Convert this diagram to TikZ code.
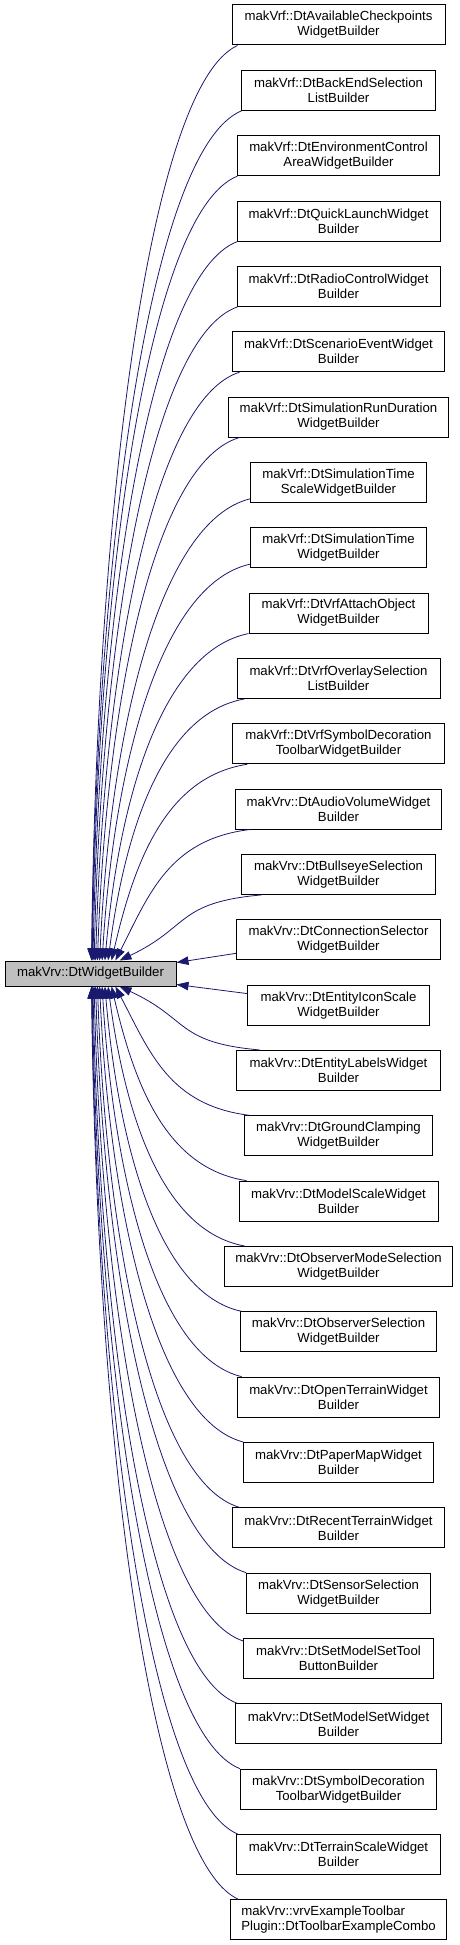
\documentclass[tikz,border=0pt]{standalone}
\usepackage{fontspec}
\setmainfont{Liberation Sans}
\usetikzlibrary{arrows.meta}
\definecolor{midnightblue}{HTML}{191970}
\definecolor{grey75}{HTML}{BFBFBF}
\begin{document}
\begin{tikzpicture}[x=1pt,y=-1pt,
  box/.style={draw=black, fill=white, line width=1pt, minimum height=40pt, inner sep=0pt, align=center, font=\fontsize{13.2pt}{15pt}\selectfont},
  lnode/.style={draw=black, fill=grey75, line width=1pt, minimum height=25pt, minimum width=171pt, inner sep=0pt, font=\fontsize{13.2pt}{15pt}\selectfont},
  edge/.style={draw=midnightblue, line width=0.8pt, {Triangle[length=12pt,width=8.5pt,fill=midnightblue]}-}]
\useasboundingbox (0,0) rectangle (459,1945);
\node[lnode] (L) at (90.5,973.5) {makVrv::DtWidgetBuilder};
\node[box, minimum width=213pt] (b0) at (338.5,25) {makVrf::DtAvailableCheckpoints\\WidgetBuilder};
\node[box, minimum width=193.6pt] (b1) at (338.5,90.34) {makVrf::DtBackEndSelection\\ListBuilder};
\node[box, minimum width=202pt] (b2) at (338.5,155.68) {makVrf::DtEnvironmentControl\\AreaWidgetBuilder};
\node[box, minimum width=203pt] (b3) at (338.5,221.02) {makVrf::DtQuickLaunchWidget\\Builder};
\node[box, minimum width=203pt] (b4) at (338.5,286.36) {makVrf::DtRadioControlWidget\\Builder};
\node[box, minimum width=212.4pt] (b5) at (338.5,351.7) {makVrf::DtScenarioEventWidget\\Builder};
\node[box, minimum width=220.4pt] (b6) at (338.5,417.04) {makVrf::DtSimulationRunDuration\\WidgetBuilder};
\node[box, minimum width=176.4pt] (b7) at (338.5,482.38) {makVrf::DtSimulationTime\\ScaleWidgetBuilder};
\node[box, minimum width=176.4pt] (b8) at (338.5,547.72) {makVrf::DtSimulationTime\\WidgetBuilder};
\node[box, minimum width=179pt] (b9) at (338.5,613.06) {makVrf::DtVrfAttachObject\\WidgetBuilder};
\node[box, minimum width=203pt] (b10) at (338.5,678.4) {makVrf::DtVrfOverlaySelection\\ListBuilder};
\node[box, minimum width=211.3pt] (b11) at (338.5,743.74) {makVrf::DtVrfSymbolDecoration\\ToolbarWidgetBuilder};
\node[box, minimum width=206.7pt] (b12) at (338.5,809.08) {makVrv::DtAudioVolumeWidget\\Builder};
\node[box, minimum width=193.6pt] (b13) at (338.5,874.42) {makVrv::DtBullseyeSelection\\WidgetBuilder};
\node[box, minimum width=203.3pt] (b14) at (338.5,939.76) {makVrv::DtConnectionSelector\\WidgetBuilder};
\node[box, minimum width=181.3pt] (b15) at (338.5,1005.1) {makVrv::DtEntityIconScale\\WidgetBuilder};
\node[box, minimum width=203.3pt] (b16) at (338.5,1070.44) {makVrv::DtEntityLabelsWidget\\Builder};
\node[box, minimum width=187.3pt] (b17) at (338.5,1135.78) {makVrv::DtGroundClamping\\WidgetBuilder};
\node[box, minimum width=199pt] (b18) at (338.5,1201.12) {makVrv::DtModelScaleWidget\\Builder};
\node[box, minimum width=228.4pt] (b19) at (338.5,1266.46) {makVrv::DtObserverModeSelection\\WidgetBuilder};
\node[box, minimum width=196.4pt] (b20) at (338.5,1331.8) {makVrv::DtObserverSelection\\WidgetBuilder};
\node[box, minimum width=202pt] (b21) at (338.5,1397.14) {makVrv::DtOpenTerrainWidget\\Builder};
\node[box, minimum width=189.6pt] (b22) at (338.5,1462.48) {makVrv::DtPaperMapWidget\\Builder};
\node[box, minimum width=212.4pt] (b23) at (338.5,1527.82) {makVrv::DtRecentTerrainWidget\\Builder};
\node[box, minimum width=184.4pt] (b24) at (338.5,1593.16) {makVrv::DtSensorSelection\\WidgetBuilder};
\node[box, minimum width=189.6pt] (b25) at (338.5,1658.5) {makVrv::DtSetModelSetTool\\ButtonBuilder};
\node[box, minimum width=206pt] (b26) at (338.5,1723.84) {makVrv::DtSetModelSetWidget\\Builder};
\node[box, minimum width=196pt] (b27) at (338.5,1789.18) {makVrv::DtSymbolDecoration\\ToolbarWidgetBuilder};
\node[box, minimum width=203.3pt] (b28) at (338.5,1854.52) {makVrv::DtTerrainScaleWidget\\Builder};
\node[box, minimum width=216.4pt, align=left] (b29) at (338.5,1919.86) {makVrv::vrvExampleToolbar\\Plugin::DtToolbarExampleCombo};
% upper curved edges
\foreach \i/\bs/\ys/\bx in {0/6/0/238, 1/0.3/0/242, 2/0.3/0/238, 3/1/0/238, 4/1/0/238, 5/7.7/0/240, 6/11.7/0/240, 7/0/4/250.3, 8/0/4/250.3, 9/0/0/249, 10/8/0/245, 11/15/0/248, 12/14.7/0/250, 13/20.3/0/262}{
  \pgfmathsetmacro\tx{92+28*(\i/13)^2}
  \pgfmathsetmacro\txs{\tx-5}
  \pgfmathsetmacro\dx{\bx-\tx}
  \pgfmathsetmacro\dy{961-(45+65.34*\i-\ys)}
  \pgfmathsetmacro\al{min(0.5,33/\dy)}
  \draw[edge] ([xshift=\txs pt]L.north west) .. controls +({\al*\dx},{-0.5*\dy}) and +({-0.6*\dx},{0.038*\dy+5}) .. ([xshift=\bs pt,yshift=\ys pt]b\i.south west);
}
% lower curved edges
\foreach \i/\bs/\ys/\bx in {16/23.3/0/260, 17/5/0/250, 18/8/0/247, 19/20.7/0/245, 20/1.7/0/242, 21/4.7/0/242, 22/0/0/243.7, 23/7.7/0/240, 24/0.4/0/246.7, 25/0/-3/243.7, 26/2.3/0/238, 27/0/0/240, 28/1.3/0/238, 29/8.7/0/239}{
  \pgfmathsetmacro\tx{92+28*((29-\i)/13)^2}
  \pgfmathsetmacro\txs{\tx-5}
  \pgfmathsetmacro\dx{\bx-\tx}
  \pgfmathsetmacro\dy{(5+65.34*\i-\ys)-986}
  \pgfmathsetmacro\al{min(0.5,33/\dy)}
  \draw[edge] ([xshift=\txs pt]L.south west) .. controls +({\al*\dx},{0.5*\dy}) and +({-0.6*\dx},{-0.038*\dy-5}) .. ([xshift=\bs pt,yshift=\ys pt]b\i.north west);
}
% straight edges
\draw[edge] ([yshift=-2pt]L.north east) -- ([yshift=7pt]b14.south west);
\draw[edge] ([yshift=2pt]L.south east) -- ([yshift=-9pt]b15.north west);
\end{tikzpicture}
\end{document}
